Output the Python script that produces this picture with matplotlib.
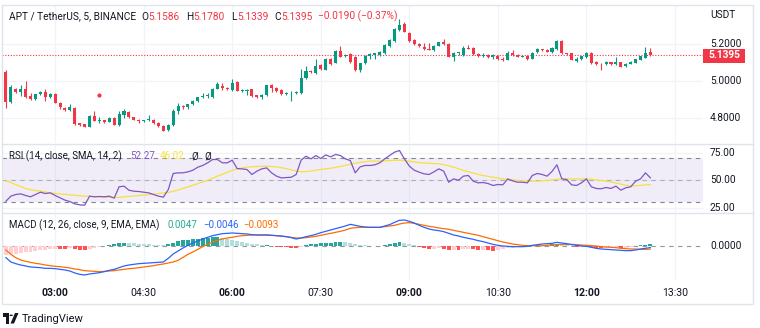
import matplotlib
matplotlib.use("Agg")
import matplotlib.pyplot as plt
import matplotlib.transforms as mtransforms
from matplotlib.patches import Rectangle, Circle, Polygon
from matplotlib.lines import Line2D
import numpy as np

W, H = 760, 328
plt.rcParams['font.family'] = ['Roboto', 'DejaVu Sans']

# ---- data (APT/USDT, 5 min bars) ----
start_time = "02:10"
bar_minutes = 5

opens = [5.051, 4.887, 4.956, 4.940, 4.958, 4.918, 4.900, 4.927, 4.940, 4.911,
         4.930, 4.882, 4.855, 4.842, 4.851, 4.769, 4.766, 4.751, 4.811, 4.782,
         4.785, 4.778, 4.800, 4.760, 4.815, 4.833, 4.802, 4.790, 4.780, 4.787,
         4.790, 4.770, 4.755, 4.731, 4.760, 4.835, 4.863, 4.857, 4.873, 4.893,
         4.911, 4.918, 4.915, 4.958, 4.975, 4.962, 4.951, 4.994, 4.948, 4.948,
         4.955, 4.922, 4.912, 4.922, 4.978, 4.962, 4.951, 4.929, 4.932, 4.933,
         4.935, 5.015, 5.056, 5.045, 5.085, 5.062, 5.120, 5.100, 5.164, 5.135,
         5.145, 5.130, 5.058, 5.096, 5.138, 5.140, 5.142, 5.150, 5.190, 5.218,
         5.278, 5.309, 5.262, 5.223, 5.200, 5.187, 5.175, 5.169, 5.192, 5.211,
         5.202, 5.132, 5.150, 5.140, 5.181, 5.180, 5.146, 5.135, 5.140, 5.128,
         5.136, 5.122, 5.115, 5.150, 5.142, 5.132, 5.135, 5.120, 5.158, 5.172,
         5.170, 5.160, 5.173, 5.218, 5.150, 5.151, 5.110, 5.120, 5.129, 5.154,
         5.106, 5.095, 5.091, 5.104, 5.090, 5.104, 5.080, 5.095, 5.100, 5.115,
         5.127, 5.1586]
highs = [5.060, 4.978, 4.962, 4.978, 5.000, 4.935, 4.930, 4.948, 4.955, 4.935,
         4.935, 4.885, 4.860, 4.872, 4.856, 4.772, 4.768, 4.815, 4.835, 4.805,
         4.790, 4.802, 4.805, 4.838, 4.845, 4.838, 4.806, 4.795, 4.790, 4.815,
         4.795, 4.775, 4.760, 4.765, 4.845, 4.880, 4.868, 4.876, 4.896, 4.914,
         4.935, 4.932, 4.960, 4.992, 4.990, 4.966, 5.010, 4.998, 4.955, 4.955,
         4.958, 4.925, 4.928, 4.980, 4.982, 4.968, 4.955, 4.938, 4.948, 4.945,
         5.065, 5.080, 5.060, 5.120, 5.090, 5.125, 5.125, 5.168, 5.190, 5.145,
         5.150, 5.135, 5.100, 5.142, 5.150, 5.155, 5.165, 5.200, 5.230, 5.290,
         5.336, 5.320, 5.265, 5.228, 5.205, 5.205, 5.205, 5.195, 5.214, 5.230,
         5.205, 5.158, 5.160, 5.190, 5.195, 5.185, 5.150, 5.150, 5.145, 5.145,
         5.140, 5.128, 5.165, 5.170, 5.146, 5.140, 5.140, 5.158, 5.178, 5.176,
         5.172, 5.185, 5.222, 5.222, 5.153, 5.153, 5.128, 5.138, 5.158, 5.156,
         5.108, 5.098, 5.108, 5.106, 5.128, 5.106, 5.098, 5.108, 5.122, 5.138,
         5.184, 5.178]
lows = [4.855, 4.880, 4.935, 4.920, 4.905, 4.896, 4.896, 4.922, 4.892, 4.908,
        4.880, 4.845, 4.835, 4.838, 4.762, 4.755, 4.748, 4.750, 4.782, 4.770,
        4.772, 4.775, 4.758, 4.757, 4.800, 4.800, 4.788, 4.770, 4.775, 4.782,
        4.765, 4.750, 4.726, 4.728, 4.755, 4.822, 4.850, 4.845, 4.868, 4.888,
        4.906, 4.908, 4.905, 4.955, 4.952, 4.952, 4.948, 4.945, 4.940, 4.925,
        4.915, 4.905, 4.900, 4.918, 4.940, 4.942, 4.925, 4.926, 4.890, 4.928,
        4.930, 5.010, 5.045, 5.040, 5.060, 5.058, 5.085, 5.098, 5.128, 5.128,
        5.100, 5.055, 5.050, 5.092, 5.118, 5.120, 5.138, 5.146, 5.185, 5.210,
        5.272, 5.265, 5.215, 5.198, 5.186, 5.170, 5.168, 5.165, 5.188, 5.196,
        5.128, 5.110, 5.142, 5.135, 5.172, 5.140, 5.130, 5.128, 5.125, 5.120,
        5.112, 5.110, 5.112, 5.138, 5.128, 5.128, 5.115, 5.118, 5.155, 5.165,
        5.158, 5.155, 5.170, 5.148, 5.143, 5.112, 5.105, 5.115, 5.125, 5.090,
        5.088, 5.060, 5.086, 5.088, 5.087, 5.075, 5.076, 5.092, 5.098, 5.112,
        5.124, 5.1339]
closes = [4.887, 4.966, 4.940, 4.955, 4.912, 4.900, 4.927, 4.942, 4.911, 4.930,
          4.882, 4.857, 4.842, 4.860, 4.764, 4.758, 4.751, 4.811, 4.784, 4.787,
          4.776, 4.800, 4.760, 4.818, 4.838, 4.802, 4.790, 4.780, 4.787, 4.795,
          4.770, 4.752, 4.729, 4.760, 4.835, 4.863, 4.857, 4.873, 4.893, 4.911,
          4.918, 4.925, 4.958, 4.982, 4.962, 4.955, 4.991, 4.947, 4.951, 4.953,
          4.918, 4.910, 4.925, 4.978, 4.962, 4.945, 4.929, 4.935, 4.936, 4.942,
          5.015, 5.056, 5.050, 5.083, 5.065, 5.118, 5.090, 5.164, 5.132, 5.140,
          5.105, 5.060, 5.096, 5.138, 5.146, 5.150, 5.160, 5.196, 5.223, 5.283,
          5.305, 5.269, 5.218, 5.200, 5.190, 5.173, 5.171, 5.192, 5.211, 5.200,
          5.132, 5.155, 5.156, 5.181, 5.176, 5.145, 5.135, 5.143, 5.130, 5.140,
          5.118, 5.115, 5.151, 5.140, 5.132, 5.137, 5.120, 5.154, 5.173, 5.168,
          5.160, 5.180, 5.218, 5.151, 5.145, 5.115, 5.120, 5.135, 5.154, 5.096,
          5.091, 5.091, 5.104, 5.090, 5.104, 5.078, 5.095, 5.105, 5.120, 5.135,
          5.154, 5.1395]

marker_bar = 19
marker_price = 4.925

rsi = [31.0, 35.6, 37.1, 37.7, 36.2, 35.0, 37.1, 39.2, 38.0, 38.6,
       36.2, 34.1, 32.0, 30.7, 28.6, 27.7, 27.4, 35.6, 35.0, 35.3,
       35.0, 35.6, 33.8, 44.1, 44.7, 41.0, 40.1, 39.8, 39.2, 38.6,
       37.1, 35.6, 34.7, 41.6, 56.2, 56.8, 56.8, 57.7, 59.2, 61.9,
       63.5, 65.9, 68.9, 68.9, 65.9, 65.9, 68.3, 60.7, 60.4, 59.8,
       55.3, 58.3, 60.4, 61.3, 56.8, 53.8, 52.2, 52.5, 52.8, 55.3,
       68.3, 71.9, 69.5, 72.5, 69.8, 73.1, 71.3, 73.5, 72.5, 69.5,
       68.0, 56.8, 62.2, 63.5, 63.5, 64.1, 65.9, 69.5, 72.5, 75.6,
       77.1, 69.5, 62.9, 59.2, 57.4, 55.9, 55.3, 57.7, 60.4, 58.3,
       48.3, 51.3, 50.1, 53.8, 54.4, 49.2, 47.7, 48.0, 47.1, 45.3,
       46.2, 45.9, 51.3, 49.5, 48.3, 48.3, 47.7, 54.4, 56.2, 55.3,
       53.8, 58.0, 64.1, 51.3, 50.7, 45.9, 45.3, 47.7, 51.3, 44.1,
       42.6, 42.3, 43.5, 42.6, 44.7, 41.0, 43.2, 44.1, 49.2, 51.3,
       56.8, 52.27]
rsi_ma = [49.5, 48.0, 46.0, 44.5, 42.5, 41.5, 40.8, 40.0, 39.3, 38.6,
          38.0, 37.6, 37.2, 36.8, 36.4, 36.0, 35.6, 35.4, 35.2, 35.0,
          34.8, 34.6, 34.4, 34.5, 34.9, 35.3, 35.6, 36.0, 36.5, 37.0,
          37.4, 37.9, 38.4, 39.0, 40.0, 41.2, 42.6, 44.0, 45.5, 47.0,
          48.5, 50.0, 51.8, 53.8, 55.5, 57.2, 59.0, 60.3, 61.3, 62.0,
          62.3, 62.6, 62.8, 62.9, 62.6, 62.2, 61.5, 60.6, 59.5, 58.4,
          57.8, 58.0, 58.5, 59.2, 59.8, 60.4, 61.0, 61.8, 62.6, 63.6,
          64.7, 65.6, 66.3, 66.9, 67.4, 67.6, 67.4, 67.6, 67.9, 68.2,
          68.3, 68.0, 67.4, 66.7, 66.0, 65.7, 65.5, 65.3, 65.0, 64.2,
          63.2, 62.0, 60.5, 59.0, 57.8, 56.6, 55.4, 54.4, 53.6, 52.8,
          52.0, 51.3, 50.8, 50.3, 49.9, 49.5, 49.2, 49.2, 49.2, 49.5,
          49.9, 50.4, 51.0, 51.3, 51.3, 51.2, 51.2, 51.3, 51.2, 50.9,
          50.4, 49.8, 49.2, 48.5, 47.6, 46.6, 45.6, 44.8, 45.0, 45.4,
          45.8, 46.02]

macd = [-0.035, -0.048, -0.053, -0.057, -0.060, -0.063, -0.064, -0.065, -0.067, -0.067,
        -0.068, -0.070, -0.072, -0.075, -0.081, -0.085, -0.087, -0.084, -0.082, -0.080,
        -0.077, -0.073, -0.070, -0.065, -0.060, -0.057, -0.055, -0.053, -0.052, -0.051,
        -0.050, -0.049, -0.048, -0.037, -0.024, -0.015, -0.006, 0.002, 0.009, 0.015,
        0.021, 0.026, 0.031, 0.034, 0.037, 0.038, 0.039, 0.038, 0.037, 0.036,
        0.034, 0.033, 0.033, 0.033, 0.032, 0.031, 0.030, 0.028, 0.025, 0.021,
        0.024, 0.028, 0.031, 0.035, 0.040, 0.044, 0.048, 0.052, 0.056, 0.060,
        0.065, 0.062, 0.059, 0.057, 0.056, 0.056, 0.056, 0.060, 0.064, 0.071,
        0.077, 0.078, 0.074, 0.069, 0.062, 0.056, 0.051, 0.048, 0.046, 0.043,
        0.038, 0.033, 0.030, 0.026, 0.023, 0.020, 0.016, 0.013, 0.009, 0.005,
        0.002, 0.000, -0.001, -0.002, -0.002, -0.002, -0.001, 0.002, 0.004, 0.006,
        0.007, 0.008, 0.011, 0.009, 0.007, 0.004, 0.002, 0.000, -0.001, -0.004,
        -0.007, -0.009, -0.010, -0.011, -0.012, -0.013, -0.014, -0.014, -0.012, -0.009,
        -0.007, -0.0046]
signal = [-0.012, -0.025, -0.035, -0.042, -0.046, -0.049, -0.052, -0.054, -0.057, -0.059,
          -0.061, -0.062, -0.064, -0.066, -0.069, -0.071, -0.074, -0.075, -0.076, -0.077,
          -0.076, -0.075, -0.074, -0.072, -0.070, -0.068, -0.067, -0.065, -0.063, -0.061,
          -0.059, -0.056, -0.054, -0.051, -0.048, -0.043, -0.034, -0.025, -0.018, -0.010,
          -0.002, 0.005, 0.012, 0.017, 0.021, 0.024, 0.026, 0.029, 0.031, 0.032,
          0.033, 0.033, 0.033, 0.033, 0.032, 0.031, 0.029, 0.028, 0.026, 0.024,
          0.024, 0.025, 0.027, 0.029, 0.032, 0.035, 0.038, 0.041, 0.044, 0.048,
          0.053, 0.055, 0.056, 0.056, 0.056, 0.056, 0.056, 0.058, 0.060, 0.062,
          0.066, 0.069, 0.070, 0.068, 0.065, 0.062, 0.059, 0.057, 0.054, 0.052,
          0.050, 0.047, 0.044, 0.041, 0.038, 0.035, 0.032, 0.028, 0.024, 0.020,
          0.016, 0.012, 0.009, 0.006, 0.004, 0.002, 0.001, 0.001, 0.000, 0.001,
          0.002, 0.003, 0.004, 0.005, 0.005, 0.005, 0.004, 0.003, 0.002, 0.001,
          0.000, -0.002, -0.003, -0.004, -0.005, -0.007, -0.008, -0.009, -0.009, -0.010,
          -0.010, -0.0093]
hist = [-0.028, -0.025, -0.023, -0.021, -0.019, -0.017, -0.015, -0.013, -0.011, -0.009,
        -0.0075, -0.008, -0.009, -0.007, -0.010, -0.012, -0.013, -0.008, -0.005, -0.002,
        -0.001, 0.004, 0.005, 0.008, 0.010, 0.009, 0.008, 0.007, 0.006, 0.005,
        0.004, 0.003, 0.002, 0.005, 0.010, 0.014, 0.017, 0.019, 0.021, 0.022,
        0.023, 0.024, 0.026, 0.027, 0.024, 0.021, 0.019, 0.016, 0.013, 0.010,
        0.007, 0.005, 0.003, 0.0035, 0.001, -0.002, -0.003, -0.004, -0.005, -0.0055,
        -0.002, 0.004, 0.006, 0.007, 0.008, 0.009, 0.010, 0.011, 0.013, 0.012,
        0.010, 0.005, 0.003, 0.002, 0.001, -0.001, 0.001, 0.003, 0.005, 0.008,
        0.011, 0.008, 0.005, 0.002, -0.004, -0.006, -0.010, -0.008, -0.007, -0.009,
        -0.013, -0.012, -0.0125, -0.009, -0.008, -0.010, -0.012, -0.011, -0.013, -0.014,
        -0.012, -0.010, -0.007, -0.005, -0.004, -0.003, -0.002, 0.001, 0.003, 0.004,
        0.0035, 0.005, 0.007, 0.004, 0.002, -0.001, -0.003, -0.002, -0.001, -0.004,
        -0.006, -0.007, -0.006, -0.0055, -0.005, -0.007, -0.005, -0.003, 0.001, 0.003,
        0.0045, 0.0047]

price_ticks = [4.8, 5.0, 5.2]
rsi_ticks = [25, 50, 75]
rsi_levels = [30, 50, 70]
macd_ticks = [0.0]
time_ticks = ["03:00", "04:30", "06:00", "07:30", "09:00", "10:30", "12:00", "13:30"]
bold_ticks = ["03:00", "06:00", "09:00", "12:00"]
last_price = 5.1395
change_text = "\u22120.0190 (\u22120.37%)"

# ---- colours ----
UP, DOWN = '#089981', '#F23645'
TXT = '#131722'
GRID = '#F0F3FA'
BORDER = '#E0E3EB'


def to_min(t):
    h, m = t.split(':')
    return int(h) * 60 + int(m)


def rect(x0, y0, x1, y1):
    return [x0 / W, 1 - y1 / H, (x1 - x0) / W, (y1 - y0) / H]


def fx(x):
    return x / W


def fy(y):
    return 1 - y / H


n = len(closes)
idx = np.arange(n)
tick_pos = [(to_min(t) - to_min(start_time)) / bar_minutes for t in time_ticks]
xlim = (-0.8, 141.7)

fig = plt.figure(figsize=(W / 100, H / 100), dpi=100)
fig.patch.set_facecolor('white')
renderer = fig.canvas.get_renderer()


def text_row(pieces, x, y, fs):
    # lay pieces out left to right, each starting after the previous one ends
    for txt, col, gap in pieces:
        t = fig.text(fx(x), fy(y), txt, fontsize=fs, color=col, va='center')
        bb = t.get_window_extent(renderer)
        x = bb.x1 + gap


ax_p = fig.add_axes(rect(2, 5, 703, 143))
ax_r = fig.add_axes(rect(2, 145, 703, 212))
ax_m = fig.add_axes(rect(2, 213, 703, 281))

for ax in (ax_p, ax_r, ax_m):
    ax.set_xlim(*xlim)
    for s in ax.spines.values():
        s.set_visible(False)
    ax.set_xticks([])
    ax.set_yticks([])
    ax.patch.set_alpha(0)
    for t in tick_pos:
        ax.axvline(t, color=GRID, lw=0.9, zorder=0)

# ---- price pane ----
ax_p.set_ylim(4.662, 5.414)
for p in price_ticks:
    ax_p.axhline(p, color=GRID, lw=0.9, zorder=0)

o = np.array(opens)
c = np.array(closes)
colors = [UP if cc >= oo else DOWN for oo, cc in zip(o, c)]
ax_p.vlines(idx, lows, highs, colors=colors, lw=0.8, zorder=2)
ax_p.bar(idx, np.maximum(np.abs(c - o), 0.003), bottom=np.minimum(o, c),
         width=0.62, color=colors, zorder=3, linewidth=0)
ax_p.axhline(last_price, color=DOWN, lw=0.8, ls=(0, (1, 1.5)), zorder=1)
ax_p.scatter([marker_bar], [marker_price], s=9, color=DOWN, zorder=4, linewidths=0)

# ---- RSI pane ----
ax_r.set_ylim(21.2, 82.1)
for v in rsi_ticks:
    ax_r.axhline(v, color=GRID, lw=0.9, zorder=0)
ax_r.axhspan(rsi_levels[0], rsi_levels[2], color='#7E57C2', alpha=0.1, lw=0, zorder=1)
for v in rsi_levels:
    ax_r.axhline(v, color='#787B86', lw=0.8, ls=(0, (4, 4)),
                 alpha=0.5 if v == 50 else 0.9, zorder=2)
ax_r.plot(idx, rsi, color='#7E57C2', lw=0.9, zorder=4)
ax_r.plot(idx, rsi_ma, color='#F5E13B', lw=0.9, zorder=3)

# ---- MACD pane ----
ax_m.set_ylim(-0.105, 0.099)
ax_m.axhline(0, color='#787B86', lw=0.8, ls=(0, (4, 4)), alpha=0.8, zorder=1)
hcols = []
for i, v in enumerate(hist):
    prev = hist[i - 1] if i > 0 else v
    if v >= 0:
        hcols.append('#26A69A' if v >= prev else '#B2DFDB')
    else:
        hcols.append('#FF5252' if v < prev else '#FFCDD2')
ax_m.bar(idx, hist, width=0.8, color=hcols, lw=0, zorder=2)
ax_m.plot(idx, signal, color='#FF6D00', lw=0.9, zorder=3)
ax_m.plot(idx, macd, color='#2962FF', lw=0.9, zorder=4)

# ---- right price scale ----
fs = 7.3
tr_p = mtransforms.blended_transform_factory(fig.transFigure, ax_p.transData)
tr_r = mtransforms.blended_transform_factory(fig.transFigure, ax_r.transData)
tr_m = mtransforms.blended_transform_factory(fig.transFigure, ax_m.transData)
for p in price_ticks:
    ax_p.text(fx(710), p, f"{p:.4f}", transform=tr_p, fontsize=fs, color=TXT,
              va='center', ha='left', clip_on=False)
for v in rsi_ticks:
    ax_r.text(fx(710), v, f"{v:.2f}", transform=tr_r, fontsize=fs, color=TXT,
              va='center', ha='left', clip_on=False)
for v in macd_ticks:
    ax_m.text(fx(710), v, f"{v:.4f}", transform=tr_m, fontsize=fs, color=TXT,
              va='center', ha='left', clip_on=False)
fig.text(fx(710), fy(15), "USDT", fontsize=fs, color=TXT, va='center', ha='left')

# last price label (box + text at figure level so the text sits on top)
fig.patches.append(Rectangle((fx(703), fy(63)), (745 - 703) / W, 14 / H,
                             transform=fig.transFigure, facecolor=DOWN,
                             edgecolor='none', zorder=1))
fig.text(fx(724), last_price, f"{last_price:.4f}", transform=tr_p, fontsize=fs,
         color='white', fontweight='bold', va='center', ha='center', zorder=5)

# ---- time axis ----
tr_t = mtransforms.blended_transform_factory(ax_m.transData, fig.transFigure)
for t, pos in zip(time_ticks, tick_pos):
    ax_m.text(pos, fy(293), t, transform=tr_t, fontsize=7.6, color=TXT,
              fontweight='bold' if t in bold_ticks else 'normal',
              ha='center', va='center', clip_on=False)

# ---- legends / headers ----
text_row([("APT / TetherUS, 5, BINANCE", TXT, 5),
          ("O", TXT, 0.5), (f"{opens[-1]:.4f}", DOWN, 6),
          ("H", TXT, 0.5), (f"{highs[-1]:.4f}", DOWN, 6),
          ("L", TXT, 0.5), (f"{lows[-1]:.4f}", DOWN, 6),
          ("C", TXT, 0.5), (f"{closes[-1]:.4f}", DOWN, 5),
          (change_text, DOWN, 0)], 9, 16.5, 7.3)

ifs = 7.0
ry = fy(156)
fig.text(fx(9), ry, "RSI (14, close, SMA, 14, 2)", fontsize=ifs, color=TXT, va='center')
fig.text(fx(130), ry, f"{rsi[-1]:.2f}", fontsize=ifs, color='#7E57C2', va='center')
fig.text(fx(160), ry, f"{rsi_ma[-1]:.2f}", fontsize=ifs, color='#F5E13B', va='center')
fig.text(fx(191), ry, "\u00d8", fontsize=ifs, color=TXT, va='center')
fig.text(fx(204), ry, "\u00d8", fontsize=ifs, color=TXT, va='center')

my = fy(225)
fig.text(fx(9), my, "MACD (12, 26, close, 9, EMA, EMA)", fontsize=ifs, color=TXT, va='center')
fig.text(fx(167), my, f"{hist[-1]:.4f}", fontsize=ifs, color='#22AB94', va='center')
fig.text(fx(203), my, f"{macd[-1]:.4f}".replace('-', '\u2212'), fontsize=ifs,
         color='#2962FF', va='center')
fig.text(fx(243), my, f"{signal[-1]:.4f}".replace('-', '\u2212'), fontsize=ifs,
         color='#FF6D00', va='center')

# ---- frame and pane separators ----
fig.patches.append(Rectangle((fx(2), fy(304)), (753 - 2) / W, (304 - 5) / H,
                             transform=fig.transFigure, fill=False,
                             edgecolor=BORDER, lw=1))
for y in (144, 212.5):
    fig.lines.append(Line2D([fx(2), fx(753)], [fy(y), fy(y)], transform=fig.transFigure,
                            color=BORDER, lw=1))

# ---- TradingView logo ----
logo = '#131722'
fig.patches.append(Rectangle((fx(2.7), fy(316.5)), 6.5 / W, 3.2 / H,
                             transform=fig.transFigure, color=logo, lw=0))
fig.patches.append(Rectangle((fx(5.8), fy(323.5)), 3.4 / W, 10.5 / H,
                             transform=fig.transFigure, color=logo, lw=0))
fig.patches.append(Circle((fx(11.2), fy(315.3)), 1.7 / W,
                          transform=fig.transFigure, color=logo, lw=0))
fig.patches.append(Polygon([(fx(10.5), fy(323.5)), (fx(14), fy(323.5)),
                            (fx(18.5), fy(313)), (fx(15), fy(313))],
                           closed=True, transform=fig.transFigure, color=logo, lw=0))
fig.text(fx(22), fy(318.5), "TradingView", fontsize=8, color=TXT, va='center')

fig.savefig("out.png", dpi=100, facecolor='white')
